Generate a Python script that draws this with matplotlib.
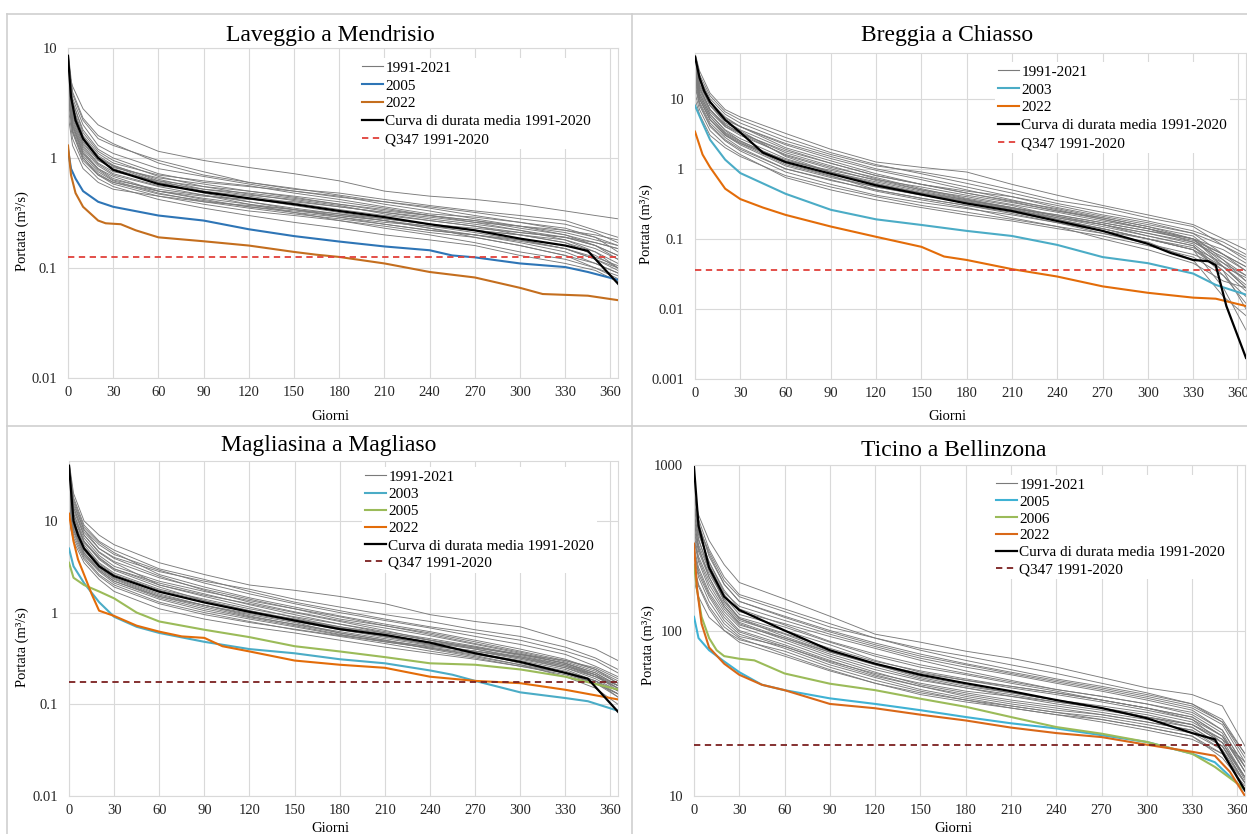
#!/usr/bin/env python

import matplotlib
matplotlib.use("Agg")
import matplotlib.pyplot as plt
from matplotlib.lines import Line2D

plt.rcParams['font.family'] = ['Liberation Serif', 'DejaVu Serif']

# ---------------- data ----------------
# days at which the single-year grey curves (1991-2021) are read
G_DAYS = [0, 3, 10, 20, 30, 60, 90, 120, 150, 180, 210, 240, 270, 300, 330, 350, 365]

# Laveggio a Mendrisio
LAV_GREY = [
    [6.5, 4.5, 2.8, 2.0, 1.7, 1.15, 0.95, 0.82, 0.72, 0.62, 0.5, 0.45, 0.42, 0.38, 0.33, 0.3, 0.28],
    [8, 3.8, 2.2, 1.5, 1.3, 0.95, 0.75, 0.6, 0.52, 0.48, 0.42, 0.37, 0.33, 0.3, 0.27, 0.22, 0.19],
    [9, 3.2, 1.8, 1.2, 1.0, 0.72, 0.6, 0.55, 0.5, 0.45, 0.38, 0.33, 0.28, 0.24, 0.2, 0.17, 0.15],
    [7, 2.5, 1.3, 0.9, 0.75, 0.62, 0.55, 0.5, 0.45, 0.4, 0.35, 0.3, 0.27, 0.23, 0.2, 0.16, 0.13],
    [5, 2.0, 1.1, 0.8, 0.65, 0.5, 0.45, 0.42, 0.4, 0.36, 0.32, 0.29, 0.26, 0.24, 0.22, 0.19, 0.16],
    [8, 2.7, 1.4, 0.95, 0.8, 0.6, 0.48, 0.4, 0.34, 0.3, 0.27, 0.23, 0.2, 0.17, 0.14, 0.11, 0.09],
    [4, 1.8, 1.0, 0.7, 0.58, 0.45, 0.38, 0.33, 0.3, 0.27, 0.24, 0.21, 0.19, 0.16, 0.13, 0.1, 0.08],
    [6, 2.2, 1.2, 0.85, 0.7, 0.55, 0.46, 0.38, 0.32, 0.27, 0.23, 0.2, 0.17, 0.14, 0.12, 0.1, 0.085],
    [3, 1.5, 0.9, 0.65, 0.55, 0.42, 0.35, 0.3, 0.26, 0.23, 0.2, 0.18, 0.16, 0.13, 0.11, 0.095, 0.075],
    [9, 3.5, 2.0, 1.3, 1.1, 0.8, 0.68, 0.58, 0.5, 0.44, 0.4, 0.36, 0.32, 0.28, 0.25, 0.21, 0.17],
    [2.5, 1.3, 0.8, 0.6, 0.52, 0.45, 0.4, 0.37, 0.34, 0.31, 0.28, 0.25, 0.22, 0.2, 0.18, 0.15, 0.12],
    [7, 2.4, 1.35, 0.95, 0.82, 0.66, 0.58, 0.5, 0.44, 0.38, 0.33, 0.3, 0.26, 0.22, 0.18, 0.14, 0.11],
    [5.5, 2.1, 1.15, 0.8, 0.68, 0.5, 0.42, 0.36, 0.32, 0.29, 0.26, 0.24, 0.22, 0.2, 0.17, 0.13, 0.1],
    [8, 3.0, 1.6, 1.1, 0.9, 0.7, 0.62, 0.56, 0.48, 0.42, 0.36, 0.31, 0.29, 0.26, 0.23, 0.19, 0.14],
    [4.5, 1.9, 1.05, 0.75, 0.62, 0.48, 0.4, 0.35, 0.31, 0.28, 0.25, 0.22, 0.2, 0.18, 0.15, 0.12, 0.095],
    [6, 2.6, 1.45, 1.0, 0.85, 0.64, 0.52, 0.46, 0.42, 0.37, 0.31, 0.27, 0.24, 0.21, 0.19, 0.16, 0.12],
    [7.5, 3.3, 1.7, 1.15, 0.95, 0.68, 0.55, 0.47, 0.41, 0.36, 0.32, 0.28, 0.25, 0.22, 0.19, 0.16, 0.13],
    [6, 2.3, 1.25, 0.88, 0.72, 0.56, 0.5, 0.45, 0.39, 0.34, 0.3, 0.27, 0.24, 0.2, 0.17, 0.14, 0.1],
    [8.5, 2.9, 1.55, 1.05, 0.86, 0.62, 0.5, 0.43, 0.37, 0.32, 0.28, 0.25, 0.23, 0.21, 0.19, 0.17, 0.15],
    [3.5, 1.7, 0.95, 0.7, 0.6, 0.47, 0.41, 0.36, 0.33, 0.3, 0.27, 0.24, 0.21, 0.18, 0.15, 0.12, 0.1],
    [9.5, 4.0, 2.3, 1.6, 1.35, 0.9, 0.7, 0.6, 0.53, 0.46, 0.4, 0.35, 0.3, 0.26, 0.22, 0.2, 0.18],
    [5, 2.0, 1.1, 0.78, 0.63, 0.52, 0.46, 0.4, 0.35, 0.31, 0.27, 0.23, 0.19, 0.16, 0.13, 0.11, 0.09],
    [7, 2.8, 1.5, 1.02, 0.84, 0.6, 0.52, 0.48, 0.43, 0.38, 0.34, 0.3, 0.27, 0.24, 0.21, 0.18, 0.16],
    [4, 1.75, 1.0, 0.72, 0.6, 0.5, 0.43, 0.38, 0.34, 0.29, 0.25, 0.22, 0.2, 0.175, 0.15, 0.125, 0.105],
]
LAV_MEAN_DAYS = [0, 2, 5, 10, 20, 30, 60, 90, 120, 150, 180, 210, 240, 270, 300, 330, 345, 365]
LAV_MEAN = [8.5, 3.6, 2.2, 1.5, 1.0, 0.78, 0.58, 0.49, 0.43, 0.38, 0.33, 0.29, 0.25, 0.22, 0.185, 0.16, 0.143, 0.072]
LAV_2005_DAYS = [0, 2, 5, 10, 20, 30, 60, 90, 120, 150, 180, 210, 240, 255, 270, 300, 330, 345, 365]
LAV_2005 = [1.2, 0.8, 0.65, 0.5, 0.4, 0.36, 0.30, 0.27, 0.225, 0.195, 0.174, 0.157, 0.145, 0.13, 0.125, 0.11, 0.102, 0.092, 0.078]
LAV_2022_DAYS = [0, 2, 5, 10, 20, 25, 35, 45, 60, 90, 120, 150, 165, 180, 210, 240, 270, 300, 315, 330, 345, 365]
LAV_2022 = [1.3, 0.7, 0.48, 0.36, 0.27, 0.255, 0.25, 0.22, 0.19, 0.175, 0.16, 0.14, 0.132, 0.126, 0.11, 0.092, 0.082, 0.066, 0.058, 0.057, 0.056, 0.051]
LAV_Q347 = 0.127

# Breggia a Chiasso
BRE_GREY = [
    [45, 25, 12, 7, 5.5, 3.2, 1.9, 1.25, 1.05, 0.9, 0.6, 0.42, 0.3, 0.22, 0.16, 0.1, 0.07],
    [35, 20, 10, 6, 4.5, 2.5, 1.6, 1.1, 0.9, 0.7, 0.5, 0.35, 0.28, 0.2, 0.15, 0.08, 0.05],
    [40, 15, 7, 4, 3.2, 1.8, 1.2, 0.8, 0.6, 0.48, 0.4, 0.3, 0.22, 0.17, 0.12, 0.06, 0.035],
    [30, 12, 6, 3.5, 2.5, 1.3, 0.95, 0.7, 0.55, 0.42, 0.33, 0.25, 0.2, 0.15, 0.11, 0.05, 0.025],
    [20, 10, 5, 3, 2.2, 1.1, 0.75, 0.55, 0.42, 0.33, 0.26, 0.2, 0.16, 0.12, 0.085, 0.04, 0.02],
    [45, 18, 8, 4.5, 3.5, 1.5, 0.9, 0.6, 0.45, 0.35, 0.28, 0.22, 0.17, 0.13, 0.1, 0.045, 0.03],
    [15, 8, 4, 2.5, 1.8, 0.9, 0.6, 0.42, 0.33, 0.27, 0.22, 0.17, 0.13, 0.1, 0.07, 0.035, 0.018],
    [25, 11, 5.5, 3.2, 2.4, 1.2, 0.8, 0.5, 0.38, 0.3, 0.23, 0.17, 0.12, 0.09, 0.05, 0.015, 0.008],
    [12, 7, 3.5, 2.2, 1.6, 0.75, 0.5, 0.36, 0.28, 0.22, 0.18, 0.14, 0.11, 0.08, 0.055, 0.03, 0.015],
    [38, 16, 8, 5, 4, 2.0, 1.3, 0.85, 0.6, 0.45, 0.35, 0.27, 0.2, 0.15, 0.1, 0.04, 0.02],
    [28, 13, 6.5, 4, 3, 1.6, 1.05, 0.75, 0.52, 0.38, 0.3, 0.21, 0.16, 0.11, 0.08, 0.03, 0.012],
    [18, 9, 4.5, 2.8, 2.0, 1.0, 0.7, 0.48, 0.36, 0.28, 0.2, 0.15, 0.1, 0.07, 0.045, 0.025, 0.02],
    [42, 20, 9, 5.5, 4, 2.2, 1.4, 0.95, 0.7, 0.5, 0.36, 0.26, 0.19, 0.14, 0.1, 0.06, 0.04],
    [22, 10, 5, 3, 2.3, 1.35, 0.9, 0.65, 0.48, 0.36, 0.27, 0.19, 0.14, 0.1, 0.07, 0.02, 0.005],
    [33, 14, 7, 4.2, 3.3, 1.7, 1.1, 0.72, 0.5, 0.4, 0.31, 0.24, 0.18, 0.14, 0.09, 0.05, 0.03],
    [10, 6, 3, 2, 1.5, 0.8, 0.55, 0.4, 0.3, 0.24, 0.19, 0.15, 0.12, 0.085, 0.06, 0.04, 0.028],
    [36, 16, 8, 4.8, 3.6, 1.9, 1.2, 0.8, 0.6, 0.45, 0.34, 0.25, 0.19, 0.14, 0.1, 0.07, 0.045],
    [26, 12, 6, 3.6, 2.7, 1.4, 0.9, 0.62, 0.46, 0.36, 0.28, 0.21, 0.16, 0.12, 0.09, 0.055, 0.035],
    [44, 22, 11, 6.5, 5, 2.8, 1.7, 1.15, 0.85, 0.62, 0.45, 0.32, 0.24, 0.18, 0.13, 0.09, 0.06],
    [16, 8.5, 4.2, 2.6, 1.9, 1.0, 0.68, 0.5, 0.38, 0.3, 0.24, 0.18, 0.14, 0.1, 0.075, 0.045, 0.025],
    [30, 14, 7, 4.3, 3.2, 1.55, 1.0, 0.68, 0.5, 0.37, 0.28, 0.2, 0.15, 0.11, 0.08, 0.035, 0.01],
    [20, 10, 5, 3.1, 2.3, 1.15, 0.78, 0.55, 0.43, 0.34, 0.27, 0.22, 0.17, 0.13, 0.095, 0.06, 0.04],
    [40, 19, 9, 5.3, 4, 2.3, 1.5, 1.0, 0.75, 0.55, 0.4, 0.28, 0.21, 0.16, 0.12, 0.08, 0.055],
    [24, 11, 5.5, 3.3, 2.5, 1.25, 0.85, 0.6, 0.45, 0.34, 0.26, 0.19, 0.14, 0.1, 0.07, 0.04, 0.022],
]
BRE_MEAN_DAYS = [0, 3, 6, 10, 20, 30, 45, 60, 90, 120, 150, 180, 210, 240, 270, 300, 315, 330, 340, 345, 352, 365]
BRE_MEAN = [40, 20, 13, 9, 5, 3.3, 1.7, 1.25, 0.85, 0.58, 0.43, 0.32, 0.25, 0.18, 0.13, 0.085, 0.063, 0.05, 0.048, 0.042, 0.011, 0.002]
BRE_2003_DAYS = [0, 5, 10, 20, 30, 60, 90, 120, 150, 180, 210, 240, 270, 300, 330, 345, 365]
BRE_2003 = [8, 4.5, 2.6, 1.35, 0.87, 0.44, 0.26, 0.19, 0.158, 0.13, 0.11, 0.082, 0.055, 0.045, 0.032, 0.022, 0.016]
BRE_2022_DAYS = [0, 5, 10, 20, 30, 45, 60, 90, 120, 150, 165, 180, 210, 240, 270, 300, 330, 345, 365]
BRE_2022 = [3.4, 1.6, 1.05, 0.52, 0.37, 0.28, 0.22, 0.15, 0.107, 0.077, 0.056, 0.05, 0.037, 0.029, 0.021, 0.017, 0.0145, 0.014, 0.011]
BRE_Q347 = 0.036

# Magliasina a Magliaso
MAG_GREY = [
    [45, 20, 10, 7, 5.5, 3.5, 2.6, 2.0, 1.75, 1.5, 1.25, 0.95, 0.8, 0.7, 0.5, 0.4, 0.3],
    [35, 15, 8, 5, 4, 2.8, 2.2, 1.8, 1.4, 1.15, 0.95, 0.8, 0.65, 0.55, 0.42, 0.32, 0.24],
    [40, 12, 6.5, 4.2, 3.2, 2.2, 1.7, 1.35, 1.1, 0.85, 0.72, 0.6, 0.48, 0.38, 0.3, 0.24, 0.18],
    [25, 10, 5.5, 3.5, 2.7, 1.8, 1.4, 1.1, 0.9, 0.75, 0.62, 0.52, 0.43, 0.35, 0.28, 0.22, 0.16],
    [15, 8, 4.5, 3, 2.3, 1.5, 1.15, 0.9, 0.75, 0.62, 0.52, 0.44, 0.38, 0.32, 0.26, 0.2, 0.15],
    [45, 14, 7, 4.5, 3.5, 2.0, 1.5, 1.15, 0.88, 0.7, 0.58, 0.47, 0.4, 0.33, 0.26, 0.21, 0.14],
    [20, 9, 4.8, 3.2, 2.4, 1.6, 1.2, 0.95, 0.78, 0.6, 0.5, 0.42, 0.36, 0.3, 0.24, 0.18, 0.12],
    [12, 7, 4, 2.6, 2.0, 1.3, 1.0, 0.8, 0.65, 0.55, 0.46, 0.38, 0.32, 0.26, 0.21, 0.17, 0.13],
    [30, 11, 6, 4, 3, 2.0, 1.55, 1.25, 1.0, 0.8, 0.64, 0.5, 0.4, 0.32, 0.25, 0.2, 0.16],
    [10, 6, 3.5, 2.3, 1.7, 1.1, 0.85, 0.7, 0.6, 0.5, 0.42, 0.36, 0.31, 0.26, 0.22, 0.18, 0.14],
    [38, 16, 8, 5.5, 4.3, 2.9, 2.1, 1.6, 1.25, 1.0, 0.82, 0.68, 0.55, 0.45, 0.35, 0.26, 0.2],
    [18, 8.5, 4.5, 2.9, 2.2, 1.45, 1.1, 0.88, 0.72, 0.58, 0.48, 0.41, 0.34, 0.27, 0.2, 0.15, 0.1],
    [28, 12, 6, 3.8, 2.9, 1.9, 1.35, 1.05, 0.82, 0.68, 0.57, 0.48, 0.41, 0.35, 0.3, 0.25, 0.19],
    [42, 18, 9, 6, 4.8, 3.0, 2.3, 1.7, 1.3, 1.05, 0.85, 0.7, 0.6, 0.5, 0.38, 0.3, 0.22],
    [22, 9, 5, 3.3, 2.5, 1.7, 1.3, 1.0, 0.85, 0.68, 0.55, 0.45, 0.37, 0.28, 0.22, 0.17, 0.12],
    [14, 7.5, 4.2, 2.8, 2.1, 1.4, 1.05, 0.85, 0.7, 0.57, 0.49, 0.43, 0.38, 0.33, 0.27, 0.2, 0.15],
    [32, 13, 7, 4.6, 3.6, 2.4, 1.8, 1.4, 1.1, 0.9, 0.72, 0.58, 0.46, 0.37, 0.29, 0.23, 0.17],
    [24, 10, 5.2, 3.4, 2.6, 1.75, 1.35, 1.05, 0.85, 0.7, 0.6, 0.5, 0.42, 0.34, 0.27, 0.21, 0.15],
    [40, 17, 8.5, 5.8, 4.5, 2.6, 1.9, 1.45, 1.15, 0.92, 0.75, 0.62, 0.5, 0.4, 0.31, 0.24, 0.17],
    [16, 8, 4.3, 2.9, 2.2, 1.5, 1.2, 0.98, 0.8, 0.65, 0.54, 0.45, 0.38, 0.31, 0.25, 0.19, 0.14],
    [28, 11, 5.8, 3.9, 3.0, 2.1, 1.6, 1.22, 0.95, 0.75, 0.6, 0.5, 0.42, 0.35, 0.28, 0.22, 0.16],
    [20, 9, 4.8, 3.1, 2.35, 1.55, 1.2, 0.92, 0.74, 0.6, 0.5, 0.4, 0.33, 0.27, 0.22, 0.17, 0.13],
    [36, 14, 7.5, 5, 3.9, 2.5, 1.75, 1.3, 1.02, 0.82, 0.68, 0.56, 0.45, 0.36, 0.28, 0.21, 0.16],
    [12, 6.5, 3.8, 2.5, 1.9, 1.25, 0.95, 0.78, 0.66, 0.56, 0.48, 0.41, 0.35, 0.29, 0.23, 0.18, 0.13],
]
MAG_MEAN_DAYS = [0, 3, 6, 10, 20, 30, 60, 90, 120, 150, 180, 210, 240, 270, 300, 330, 345, 365]
MAG_MEAN = [40, 10, 7, 5, 3.2, 2.5, 1.69, 1.29, 1.02, 0.82, 0.66, 0.57, 0.47, 0.36, 0.29, 0.22, 0.19, 0.083]
MAG_2003_DAYS = [0, 3, 10, 20, 30, 45, 60, 90, 120, 150, 180, 210, 240, 255, 270, 300, 330, 345, 365]
MAG_2003 = [5, 3.2, 2.1, 1.3, 0.9, 0.7, 0.6, 0.48, 0.4, 0.36, 0.31, 0.28, 0.234, 0.21, 0.18, 0.135, 0.117, 0.108, 0.085]
MAG_2005_DAYS = [0, 3, 10, 20, 30, 45, 60, 90, 120, 150, 180, 210, 240, 270, 300, 330, 365]
MAG_2005 = [3.5, 2.4, 2.0, 1.7, 1.43, 1.0, 0.8, 0.65, 0.54, 0.43, 0.377, 0.327, 0.28, 0.27, 0.24, 0.2, 0.145]
MAG_2022_DAYS = [0, 3, 6, 10, 15, 20, 30, 45, 60, 75, 90, 102, 120, 150, 180, 210, 240, 270, 300, 330, 365]
MAG_2022 = [12, 6, 3.8, 2.6, 1.6, 1.05, 0.92, 0.72, 0.62, 0.55, 0.53, 0.43, 0.377, 0.3, 0.27, 0.25, 0.2, 0.18, 0.17, 0.144, 0.113]
MAG_Q347 = 0.175

# Ticino a Bellinzona
TIC_GREY = [
    [650, 500, 350, 250, 195, 155, 122, 95, 85, 75, 68, 60, 52, 45, 41, 35, 20],
    [550, 420, 300, 200, 160, 130, 105, 90, 78, 70, 62, 55, 48, 42, 36, 28, 18],
    [500, 380, 260, 170, 140, 115, 95, 80, 68, 60, 54, 48, 43, 38, 33, 25, 15],
    [450, 330, 230, 160, 125, 105, 85, 70, 60, 54, 48, 43, 38, 34, 30, 23, 14],
    [400, 300, 210, 145, 115, 95, 75, 62, 52, 46, 42, 38, 35, 32, 28, 22, 13],
    [350, 260, 180, 130, 105, 85, 68, 56, 47, 42, 38, 35, 32, 29, 26, 20, 12],
    [300, 220, 160, 115, 95, 78, 62, 52, 44, 39, 35, 32, 30, 27, 24, 19, 11],
    [250, 190, 140, 105, 90, 72, 58, 48, 41, 37, 34, 31, 28, 25, 22, 18, 12],
    [200, 160, 120, 100, 88, 75, 60, 50, 43, 38, 34, 31, 29, 26, 23, 17, 11.5],
    [600, 400, 250, 165, 130, 110, 92, 78, 66, 57, 50, 44, 40, 36, 31, 24, 14],
    [480, 350, 240, 150, 120, 100, 82, 66, 56, 50, 45, 41, 37, 33, 29, 21, 13],
    [380, 280, 200, 140, 112, 90, 72, 60, 51, 45, 40, 36, 33, 30, 27, 21, 12.5],
    [700, 450, 280, 190, 150, 120, 98, 82, 70, 62, 55, 49, 44, 39, 34, 27, 16],
    [320, 240, 170, 125, 100, 82, 66, 54, 46, 40, 36, 33, 31, 28, 25, 20, 13],
    [420, 310, 220, 155, 118, 92, 74, 63, 55, 50, 46, 42, 38, 34, 29, 23, 15],
    [280, 210, 150, 110, 92, 80, 65, 55, 48, 43, 40, 37, 34, 30, 27, 22, 16],
    [600, 430, 290, 190, 150, 122, 100, 84, 72, 63, 56, 50, 45, 40, 35, 28, 17],
    [520, 360, 230, 150, 118, 96, 78, 65, 57, 51, 46, 42, 38, 34, 30, 23, 14],
    [460, 320, 210, 140, 110, 88, 70, 58, 50, 45, 41, 37, 34, 31, 27, 21, 13],
    [360, 270, 190, 135, 108, 90, 74, 62, 53, 47, 42, 38, 34, 30, 26, 20, 12],
    [640, 470, 310, 210, 165, 135, 110, 90, 76, 66, 58, 51, 46, 41, 36, 29, 18],
    [300, 230, 165, 120, 98, 80, 64, 53, 46, 41, 37, 34, 31, 28, 25, 19, 12],
    [560, 390, 260, 175, 135, 108, 86, 72, 62, 55, 49, 44, 40, 36, 32, 25, 15],
    [240, 185, 135, 100, 85, 70, 57, 48, 42, 38, 35, 32, 29, 26, 23, 18, 11],
]
TIC_MEAN_DAYS = [0, 3, 10, 20, 30, 60, 90, 120, 150, 180, 210, 240, 270, 300, 330, 345, 365]
TIC_MEAN = [970, 430, 240, 160, 133, 100, 76, 63, 54, 48, 43, 38, 34, 29.5, 24, 22, 10.8]
TIC_2005_DAYS = [0, 3, 10, 20, 30, 45, 60, 90, 120, 150, 180, 210, 240, 270, 300, 330, 345, 365]
TIC_2005 = [121, 90, 76, 65, 56, 47, 43.6, 38.9, 36, 33, 30, 27.5, 25.6, 23.3, 21.2, 18, 16, 10.8]
TIC_2006_DAYS = [0, 2, 5, 10, 15, 20, 30, 40, 60, 90, 120, 150, 180, 210, 240, 270, 300, 330, 345, 365]
TIC_2006 = [250, 176, 121, 90, 76, 70, 67.5, 66, 55, 47.7, 43.6, 38.7, 34.6, 30, 26.1, 23.8, 21.2, 18, 15, 11]
TIC_2022_DAYS = [0, 2, 5, 10, 20, 30, 45, 60, 90, 120, 150, 180, 210, 240, 270, 300, 330, 345, 355, 365]
TIC_2022 = [335, 180, 110, 79, 63, 54, 47, 43.6, 36, 33.9, 31, 28.6, 25.9, 24, 22.7, 20.4, 18.5, 17.5, 14, 10]
TIC_Q347 = 20.2

X_TICKS = list(range(0, 361, 30))

# ---------------- figure ----------------
W, H = 1247, 834
fig = plt.figure(figsize=(W / 100, H / 100), dpi=100)


def fx(x):
    return x / W


def fy(y):
    return 1 - y / H


GREY = '#7a7a7a'
GRID = '#d9d9d9'


def panel(box, title, title_xy, ylab_xy, xlab_xy, ylim, yticks, yticklabels,
          grey, series, mean_days, mean_vals, q347, q_color, leg_xy, leg_sp):
    l, t, r, b = box
    ax = fig.add_axes([fx(l), fy(b), (r - l) / W, (b - t) / H])
    ax.set_yscale('log')
    for g in grey:
        ax.plot(G_DAYS, g, color=GREY, lw=0.65, zorder=2)
    handles = [Line2D([], [], color=GREY, lw=0.8, label='1991-2021')]
    for days, vals, color, label in series:
        h, = ax.plot(days, vals, color=color, lw=1.5, label=label, zorder=3)
        handles.append(h)
    hq, = ax.plot([0, 365], [q347, q347], color=q_color, lw=1.3,
                  ls=(0, (3.5, 2.5)), label='Q347 1991-2020', zorder=4)
    hm, = ax.plot(mean_days, mean_vals, color='black', lw=1.6,
                  label='Curva di durata media 1991-2020', zorder=5)
    handles += [hm, hq]

    ax.set_xlim(0, 365)
    ax.set_ylim(*ylim)
    ax.set_xticks(X_TICKS)
    ax.set_xticklabels([str(v) for v in X_TICKS])
    ax.set_yticks(yticks)
    ax.set_yticklabels(yticklabels)
    ax.minorticks_off()
    ax.tick_params(length=0, labelsize=10.5, colors='#262626')
    ax.tick_params(axis='x', pad=6)
    ax.tick_params(axis='y', pad=8)
    ax.grid(True, color=GRID, lw=0.8, zorder=0)
    ax.set_axisbelow(True)
    for s in ax.spines.values():
        s.set_color(GRID)
        s.set_linewidth(0.8)

    leg = ax.legend(handles=handles, loc='upper left',
                    bbox_to_anchor=(fx(leg_xy[0]), fy(leg_xy[1])),
                    bbox_transform=fig.transFigure, frameon=True,
                    facecolor='white', edgecolor='none', framealpha=1,
                    fancybox=False, fontsize=11, handlelength=1.4,
                    handletextpad=0.12, labelspacing=leg_sp, borderpad=0.2,
                    borderaxespad=0)
    leg.set_zorder(6)

    fig.text(fx(title_xy[0]), fy(title_xy[1]), title, ha='center',
             va='center', fontsize=17)
    fig.text(fx(ylab_xy[0]), fy(ylab_xy[1]), 'Portata (m³/s)', ha='center',
             va='center', rotation=90, fontsize=10.5)
    fig.text(fx(xlab_xy[0]), fy(xlab_xy[1]), 'Giorni', ha='center',
             va='center', fontsize=10.5)
    return ax


panel((68, 48, 618, 378), 'Laveggio a Mendrisio', (330, 35), (22, 231), (330, 416),
      (0.01, 10), [0.01, 0.1, 1, 10], ['0.01', '0.1', '1', '10'],
      LAV_GREY,
      [(LAV_2005_DAYS, LAV_2005, '#2e75b6', '2005'),
       (LAV_2022_DAYS, LAV_2022, '#c46e1e', '2022')],
      LAV_MEAN_DAYS, LAV_MEAN, LAV_Q347, '#e0403a', (359, 58), 0.27)

panel((695, 53, 1246, 379), 'Breggia a Chiasso', (947, 36), (646, 224), (947, 416),
      (0.001, 45), [0.001, 0.01, 0.1, 1, 10], ['0.001', '0.01', '0.1', '1', '10'],
      BRE_GREY,
      [(BRE_2003_DAYS, BRE_2003, '#4bacc6', '2003'),
       (BRE_2022_DAYS, BRE_2022, '#e36c09', '2022')],
      BRE_MEAN_DAYS, BRE_MEAN, BRE_Q347, '#e0403a', (995, 62), 0.27)

panel((69, 461, 618, 796), 'Magliasina a Magliaso', (329, 446), (22, 647), (330, 828),
      (0.01, 45), [0.01, 0.1, 1, 10], ['0.01', '0.1', '1', '10'],
      MAG_GREY,
      [(MAG_2003_DAYS, MAG_2003, '#4bacc6', '2003'),
       (MAG_2005_DAYS, MAG_2005, '#9bbb59', '2005'),
       (MAG_2022_DAYS, MAG_2022, '#e36c09', '2022')],
      MAG_MEAN_DAYS, MAG_MEAN, MAG_Q347, '#7b2020', (362, 467), 0.23)

panel((694, 465, 1245, 796), 'Ticino a Bellinzona', (954, 450), (648, 645), (953, 828),
      (10, 1000), [10, 100, 1000], ['10', '100', '1000'],
      TIC_GREY,
      [(TIC_2005_DAYS, TIC_2005, '#3fb2d4', '2005'),
       (TIC_2006_DAYS, TIC_2006, '#9bbb59', '2006'),
       (TIC_2022_DAYS, TIC_2022, '#d96818', '2022')],
      TIC_MEAN_DAYS, TIC_MEAN, TIC_Q347, '#7b2020', (993, 475), 0.21)

# chart-area borders
BORDER = '#cfcfcf'
for xs, ys in [([7, 7], [14, 834]), ([632, 632], [14, 834]),
               ([7, 1247], [14, 14]), ([7, 1247], [426, 426])]:
    fig.add_artist(Line2D([fx(v) for v in xs], [fy(v) for v in ys],
                          transform=fig.transFigure, color=BORDER, lw=1.2))

fig.savefig('out.png', dpi=100)
